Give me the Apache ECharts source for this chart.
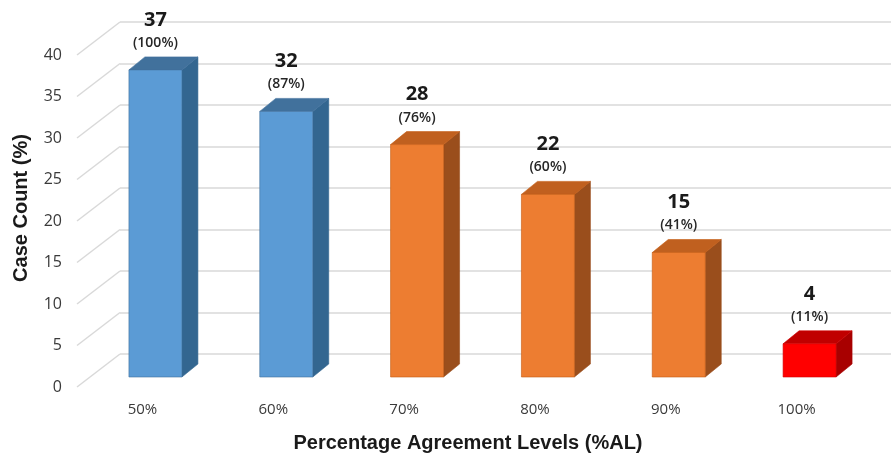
<!DOCTYPE html>
<html>
<head>
<meta charset="utf-8">
<script src="https://cdn.jsdelivr.net/npm/echarts@6/dist/echarts.min.js"></script>
<style>html,body{margin:0;padding:0;background:#fff}#c{width:891px;height:457px}</style>
</head>
<body>
<div id="c"></div>
<script>
const categories = ['50%', '60%', '70%', '80%', '90%', '100%'];
const caseCounts = [37, 32, 28, 22, 15, 4];
const percentLabels = ['(100%)', '(87%)', '(76%)', '(60%)', '(41%)', '(11%)'];
const colorGroups = ['blue', 'blue', 'orange', 'orange', 'orange', 'red'];
const yTicks = [0, 5, 10, 15, 20, 25, 30, 35, 40];
const xTitle = 'Percentage Agreement Levels (%AL)';
const yTitle = 'Case Count (%)';

const palette = {
  blue: { front: '#5B9BD5', side: '#336690', top: '#41719C', edge: '#41719C' },
  orange: { front: '#ED7D31', side: '#9A4E1C', top: '#C0601F', edge: '#C55A11' },
  red: { front: '#FF0000', side: '#A80000', top: '#C00000', edge: '#D00000' }
};

const chart = echarts.init(document.getElementById('c'), null, { renderer: 'canvas' });

const barData = caseCounts.map((v, i) => [i, v]);
const titleFont = 'Liberation Sans, Arial, sans-serif';

const option = {
  animation: false,
  backgroundColor: '#ffffff',
  grid: [
    { left: 90, right: 16, top: 45, bottom: 80 },
    { left: 77, right: 29, top: 55, bottom: 70 },
    { left: 120, right: 0, top: 22, bottom: 103 }
  ],
  graphic: [
    {
      type: 'text', x: 468, y: 433, z: 10,
      style: { text: xTitle, textAlign: 'center', textVerticalAlign: 'top', fill: '#1a1a1a', font: 'bold 20px ' + titleFont }
    },
    {
      type: 'text', x: 11, y: 208, rotation: Math.PI / 2, z: 10,
      style: { text: yTitle, textAlign: 'center', textVerticalAlign: 'top', fill: '#1a1a1a', font: 'bold 20px ' + titleFont }
    }
  ],
  xAxis: [
    { gridIndex: 0, type: 'category', data: categories, show: false },
    {
      gridIndex: 1, type: 'category', data: categories,
      axisLine: { show: false }, axisTick: { show: false }, splitLine: { show: false },
      axisLabel: { margin: 15, color: '#3a3a3a', fontSize: 15, fontFamily: 'Open Sans, sans-serif' }
    },
    { gridIndex: 2, type: 'value', min: 0, max: 1, show: false }
  ],
  yAxis: [
    { gridIndex: 0, type: 'value', min: 0, max: 40, interval: 5, show: false },
    {
      gridIndex: 1, type: 'value', min: 0, max: 40, interval: 5,
      axisLine: { show: false }, axisTick: { show: false }, splitLine: { show: false },
      axisLabel: { margin: 15, color: '#3a3a3a', fontSize: 16, fontFamily: 'Open Sans, sans-serif' }
    },
    {
      gridIndex: 2, type: 'value', min: 0, max: 40, interval: 5,
      axisLine: { show: false }, axisTick: { show: false }, axisLabel: { show: false },
      splitLine: { show: true, lineStyle: { color: '#d9d9d9', width: 1.5 } }
    }
  ],
  series: [
    {
      type: 'custom',
      xAxisIndex: 2, yAxisIndex: 2,
      data: yTicks.map(v => [0, v]),
      silent: true,
      z: 1,
      renderItem: function (params, api) {
        const p = api.coord([0, api.value(1)]);
        return {
          type: 'line',
          shape: { x1: p[0] - 43, y1: p[1] + 33, x2: p[0], y2: p[1] },
          style: { stroke: '#d9d9d9', lineWidth: 1.5 }
        };
      }
    },
    {
      type: 'custom',
      xAxisIndex: 0, yAxisIndex: 0,
      data: barData,
      z: 5,
      renderItem: function (params, api) {
        const i = api.value(0);
        const v = api.value(1);
        const top = api.coord([i, v]);
        const base = api.coord([i, 0]);
        const band = api.size([1, 0])[0];
        const w = band * 0.405;
        const dx = 16, dy = -13;
        const x0 = top[0] - w / 2, x1 = top[0] + w / 2;
        const yT = top[1], yB = base[1];
        const c = palette[colorGroups[i]];
        return {
          type: 'group',
          children: [
            {
              type: 'polygon',
              shape: { points: [[x1, yB], [x1 + dx, yB + dy], [x1 + dx, yT + dy], [x1, yT]] },
              style: { fill: c.side, stroke: c.side, lineWidth: 0.6 }
            },
            {
              type: 'polygon',
              shape: { points: [[x0, yT], [x0 + dx, yT + dy], [x1 + dx, yT + dy], [x1, yT]] },
              style: { fill: c.top, stroke: c.edge, lineWidth: 0.6 }
            },
            {
              type: 'rect',
              shape: { x: x0, y: yT, width: w, height: yB - yT },
              style: { fill: c.front, stroke: c.edge, lineWidth: 0.6 }
            },
            {
              type: 'text',
              style: {
                text: String(caseCounts[i]), x: top[0], y: yT - 50,
                textAlign: 'center', textVerticalAlign: 'middle',
                fontSize: 20, fontWeight: 'bold', fill: '#1a1a1a',
                fontFamily: 'Open Sans, sans-serif'
              }
            },
            {
              type: 'text',
              style: {
                text: percentLabels[i], x: top[0], y: yT - 27,
                textAlign: 'center', textVerticalAlign: 'middle',
                fontSize: 14, fontWeight: 600, fill: '#262626',
                fontFamily: 'Open Sans, sans-serif'
              }
            }
          ]
        };
      }
    }
  ]
};

chart.setOption(option);
</script>
</body>
</html>
